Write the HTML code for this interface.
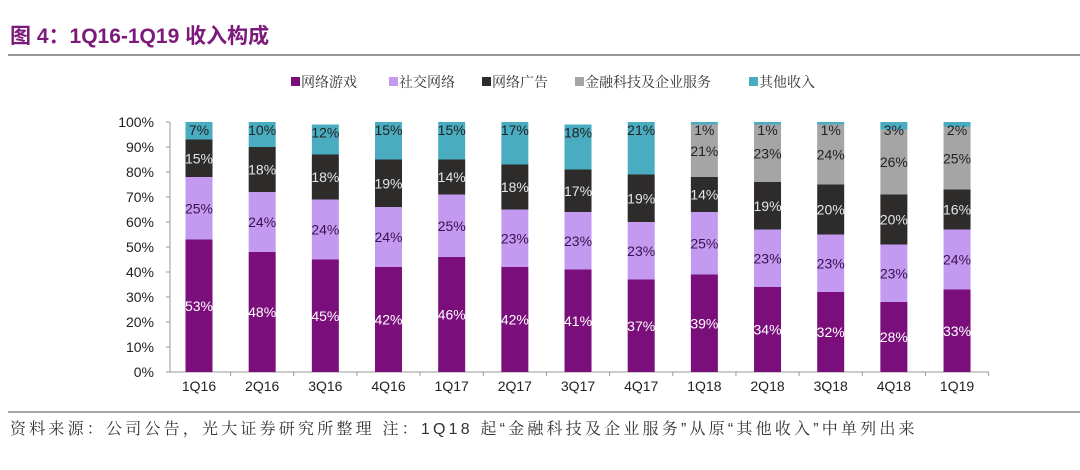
<!DOCTYPE html>
<html><head><meta charset="utf-8">
<style>
body{margin:0;background:#fff;width:1080px;height:465px;overflow:hidden;font-family:"Liberation Sans","Noto Sans CJK SC",sans-serif;}
</style></head>
<body>
<svg id="chart" width="1080" height="465" xmlns="http://www.w3.org/2000/svg">
<text x="10" y="43" font-size="21" font-weight="bold" fill="#7b1a7b" font-family="Liberation Sans,Noto Sans CJK SC,sans-serif">图 4：1Q16-1Q19 收入构成</text>
<line x1="8" y1="55" x2="1080" y2="55" stroke="#777" stroke-width="1.5"/>
<g id="legend"></g>
<g id="axes"></g>
<g id="bars"></g>
<line x1="8" y1="412" x2="1080" y2="412" stroke="#888" stroke-width="1.5"/>
<text x="10" y="434" font-size="16" letter-spacing="3.2" fill="#333" font-family="Liberation Sans,Noto Serif CJK SC,sans-serif">资料来源：公司公告，光大证券研究所整理 注：1Q18 起“金融科技及企业服务”从原“其他收入”中单列出来</text>
</svg>
<script>
const categories=["1Q16","2Q16","3Q16","4Q16","1Q17","2Q17","3Q17","4Q17","1Q18","2Q18","3Q18","4Q18","1Q19"];
const games=[53,48,45,42,46,42,41,37,39,34,32,28,33];
const social=[25,24,24,24,25,23,23,23,25,23,23,23,24];
const ads=[15,18,18,19,14,18,17,19,14,19,20,20,16];
const fintech=[0,0,0,0,0,0,0,0,21,23,24,26,25];
const other=[7,10,12,15,15,17,18,21,1,1,1,3,2];
const seriesNames=["网络游戏","社交网络","网络广告","金融科技及企业服务","其他收入"];
const yTicks=[0,10,20,30,40,50,60,70,80,90,100];

const NS="http://www.w3.org/2000/svg";
const series=[games,social,ads,fintech,other];
const colors=["#7a0f7c","#c39af0","#2e2b2b","#a5a5a5","#4aacc0"];
const labelColors=["#ffffff","#3a1050","#e6e6e6","#222222","#222222"];
const keys=["games","social","ads","fintech","other"];
const y0=372,y1=122,xLeft=170,x0=199,step=63.17,bw=27;
const yS=v=>y0-(v/100)*(y0-y1);
const xS=i=>x0+i*step;
function mk(tag,attrs,parent){const e=document.createElementNS(NS,tag);for(const k in attrs)e.setAttribute(k,attrs[k]);parent.appendChild(e);return e;}
const axes=document.getElementById('axes'),bars=document.getElementById('bars'),legend=document.getElementById('legend');
const yl=mk('line',{x1:xLeft,y1:y1,x2:xLeft,y2:y0,stroke:'#999'},axes);


const xl=mk('line',{x1:xLeft,y1:y0,x2:xS(12)+step/2,y2:y0,stroke:'#999'},axes);


yTicks.forEach(t=>{
  mk('line',{x1:xLeft-4,y1:yS(t),x2:xLeft,y2:yS(t),stroke:'#999'},axes);
  const tx=mk('text',{x:xLeft-16,y:yS(t)+5,'font-size':14,'text-anchor':'end',fill:'#222'},axes);
  tx.textContent=t+'%';
  
  
});
categories.forEach((c,i)=>{
  mk('line',{x1:xS(i)+step/2,y1:y0,x2:xS(i)+step/2,y2:y0+4,stroke:'#999'},axes);
  const tx=mk('text',{x:xS(i),y:391,'font-size':14,'text-anchor':'middle',fill:'#222'},axes);
  tx.textContent=c;
  
  
  let acc=0;
  series.forEach((s,k)=>{
    const v=s[i]; if(!v){return;}
    const r=mk('rect',{x:xS(i)-bw/2,y:yS(acc+v),width:bw,height:yS(acc)-yS(acc+v),fill:colors[k]},bars);
    
    
    const ly=(k===4)?yS(acc+v)+13:(yS(acc)+yS(acc+v))/2+5;
    const lt=mk('text',{x:xS(i),y:ly,'font-size':14,'text-anchor':'middle',fill:labelColors[k]},bars);
    lt.textContent=v+'%';
    
    
    acc+=v;
  });
});
const lx=[291,389,482,575,749];
seriesNames.forEach((n,k)=>{
  const g=mk('g',{},legend);
  
  
  mk('rect',{x:lx[k],y:77,width:9,height:9,fill:colors[k]},g);
  const t=mk('text',{x:lx[k]+10,y:87,'font-size':14,fill:'#333','font-family':'Liberation Sans,Noto Serif CJK SC,sans-serif'},g);
  t.textContent=n;
});
</script>
</body></html>
